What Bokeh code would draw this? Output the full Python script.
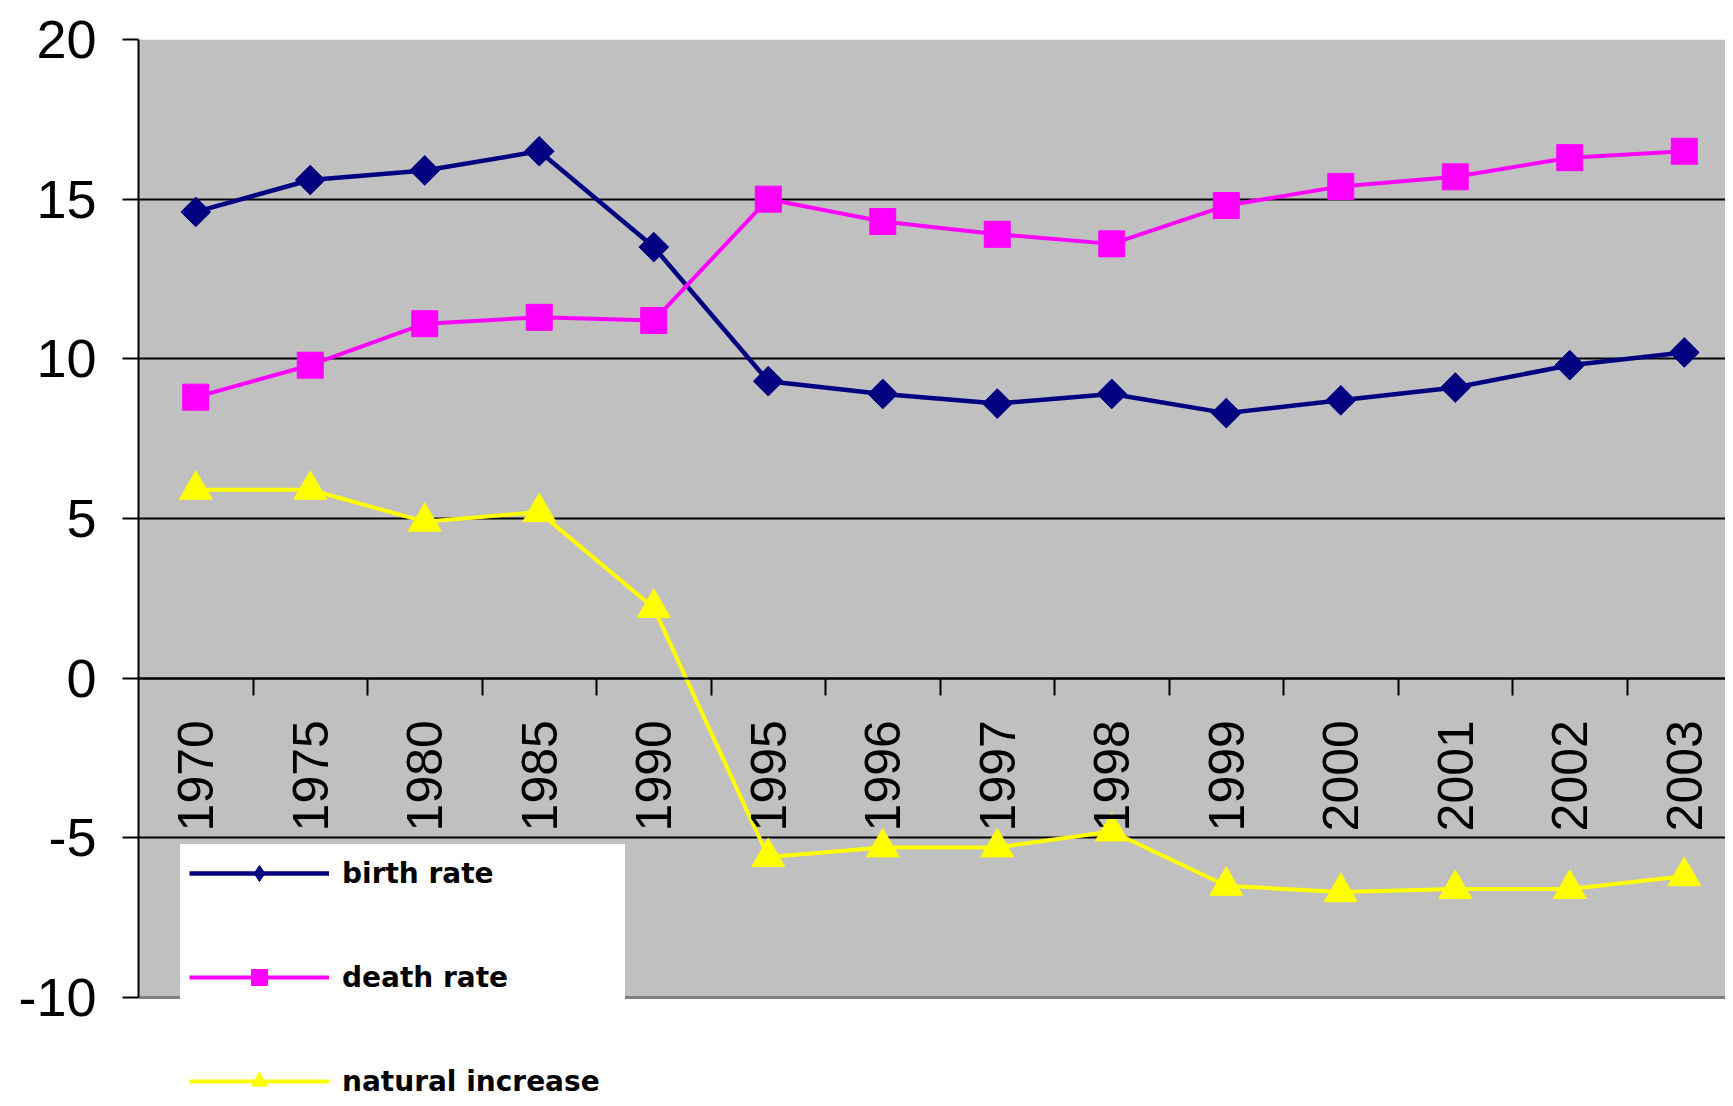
import math
from bokeh.plotting import figure
from bokeh.models import (Range1d, FixedTicker, Grid, Legend, LegendItem,
                          ColumnDataSource, BoxAnnotation)
from bokeh.embed import file_html
from bokeh.resources import INLINE

years = ["1970", "1975", "1980", "1985", "1990", "1995", "1996", "1997",
         "1998", "1999", "2000", "2001", "2002", "2003"]
birth_rate = [14.6, 15.6, 15.9, 16.5, 13.5, 9.3, 8.9, 8.6, 8.9, 8.3, 8.7, 9.1, 9.8, 10.2]
death_rate = [8.8, 9.8, 11.1, 11.3, 11.2, 15.0, 14.3, 13.9, 13.6, 14.8, 15.4, 15.7, 16.3, 16.5]
natural_increase = [5.9, 5.9, 4.9, 5.2, 2.2, -5.6, -5.3, -5.3, -4.8, -6.5, -6.7, -6.6, -6.6, -6.2]
y_ticks = [-10, -5, 0, 5, 10, 15, 20]
y_min, y_max = y_ticks[0], y_ticks[-1]

idx = list(range(len(years)))
src = ColumnDataSource(dict(x=idx, birth=birth_rate, death=death_rate, nat=natural_increase))

W, H = 1725, 1098
p = figure(width=W, height=H,
           x_range=Range1d(-0.5, 13.36), y_range=Range1d(-13.163, y_max),
           output_backend="svg", toolbar_location=None,
           min_border_left=138, min_border_right=0, min_border_top=39, min_border_bottom=0,
           background_fill_color="white", border_fill_color="white",
           outline_line_color=None)

# grey plot area between -10 and 20
p.add_layout(BoxAnnotation(bottom=y_min, top=y_max, fill_color="#C0C0C0", fill_alpha=1.0,
                           line_color=None, level="image"))

# grid
p.xgrid.visible = False
p.ygrid.ticker = FixedTicker(ticks=y_ticks[1:-1])
p.ygrid.grid_line_color = "black"
p.ygrid.grid_line_width = 2
p.add_layout(Grid(dimension=1, ticker=FixedTicker(ticks=[y_min, y_max]),
                  grid_line_color="#808080", grid_line_width=3))

# y axis
p.yaxis.ticker = FixedTicker(ticks=y_ticks)
p.yaxis.bounds = (y_min, y_max)
p.yaxis.major_label_overrides = {t: str(t) for t in y_ticks}
p.yaxis.major_tick_out = 16
p.yaxis.major_tick_in = 0
p.yaxis.minor_tick_line_color = None
p.yaxis.axis_line_color = "black"
p.yaxis.axis_line_width = 2
p.yaxis.major_tick_line_width = 2
p.yaxis.major_label_text_font = "Liberation Sans"
p.yaxis.major_label_text_font_size = "54px"
p.yaxis.major_label_text_color = "black"
p.yaxis.major_label_standoff = 26

# x axis at y = 0
p.xaxis.fixed_location = 0
p.xaxis.ticker = FixedTicker(ticks=idx, minor_ticks=[i + 0.5 for i in idx[:-1]])
p.xaxis.major_label_overrides = {i: y for i, y in zip(idx, years)}
p.xaxis.major_tick_out = 0
p.xaxis.major_tick_in = 0
p.xaxis.minor_tick_out = 17
p.xaxis.minor_tick_in = 0
p.xaxis.minor_tick_line_color = "black"
p.xaxis.minor_tick_line_width = 2
p.xaxis.axis_line_color = "black"
p.xaxis.axis_line_width = 2
p.xaxis.major_label_orientation = math.pi / 2
p.xaxis.major_label_text_font = "Liberation Sans"
p.xaxis.major_label_text_font_size = "50px"
p.xaxis.major_label_text_color = "black"
p.xaxis.major_label_standoff = 25

# series
bl = p.line("x", "birth", source=src, line_color="#000080", line_width=4.5)
bm = p.scatter("x", "birth", source=src, marker="square", size=21, angle=math.pi / 4,
               fill_color="#000080", line_color="#000080")
bm_key = p.scatter("x", "birth", source=src, marker="diamond", size=21,
                   fill_color="#000080", line_color="#000080", visible=False)
dl = p.line("x", "death", source=src, line_color="#FF00FF", line_width=4)
dm = p.scatter("x", "death", source=src, marker="square", size=26,
               fill_color="#FF00FF", line_color="#FF00FF")
nl = p.line("x", "nat", source=src, line_color="#FFFF00", line_width=4)
nm = p.scatter("x", "nat", source=src, marker="triangle", size=33,
               fill_color="#FFFF00", line_color="#FFFF00")

legend = Legend(items=[
    LegendItem(label="birth rate", renderers=[bl, bm_key]),
    LegendItem(label="death rate", renderers=[dl, dm]),
    LegendItem(label="natural increase", renderers=[nl, nm]),
], location=(42, -12), margin=0, padding=8,
    glyph_width=140, glyph_height=40, label_height=40, label_width=274,
    label_standoff=13, spacing=64,
    background_fill_color="white", background_fill_alpha=1.0,
    border_line_color="white", border_line_width=1,
    label_text_font="DejaVu Sans", label_text_font_style="bold",
    label_text_font_size="28px", label_text_color="black")
p.add_layout(legend)

open("out.html", "w").write(file_html(p, INLINE))
